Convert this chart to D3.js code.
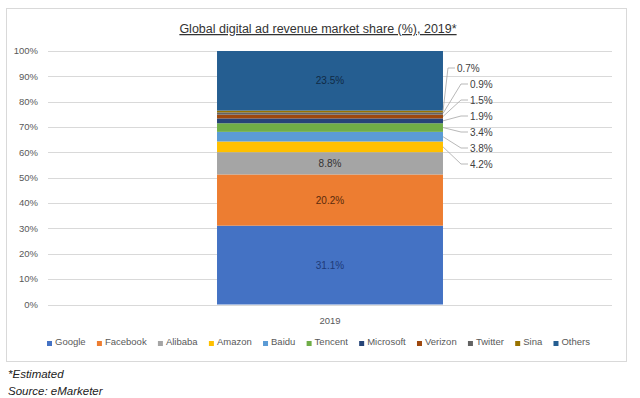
<!DOCTYPE html>
<html>
<head>
<meta charset="utf-8">
<script src="https://cdn.jsdelivr.net/npm/d3@7"></script>
<style>
  body { margin: 0; background: #fff; }
  text { font-family: "Liberation Sans", "DejaVu Sans", sans-serif; }
</style>
</head>
<body>
<svg id="chart" width="640" height="398"></svg>
<script>
// data
const years = ['2019'];
const companies = ['Google', 'Facebook', 'Alibaba', 'Amazon', 'Baidu', 'Tencent',
  'Microsoft', 'Verizon', 'Twitter', 'Sina', 'Others'];
const shares = [31.1, 20.2, 8.8, 4.2, 3.8, 3.4, 1.9, 1.5, 0.9, 0.7, 23.5];
const yTicks = [0, 10, 20, 30, 40, 50, 60, 70, 80, 90, 100];

const colors = ['#4472C4', '#ED7D31', '#A5A5A5', '#FFC000', '#5B9BD5', '#70AD47',
  '#264478', '#9E480E', '#636363', '#997300', '#255E91'];
// text colour of labels drawn inside the bar
const innerText = ['#1f3a78', '#5a2a0c', '#333333', null, null, null, null, null, null, null, '#102a45'];

const svg = d3.select('#chart');

// frame
svg.append('rect')
  .attr('x', 6.5).attr('y', 8.5)
  .attr('width', 620).attr('height', 353)
  .attr('fill', 'none')
  .attr('stroke', '#d9d9d9');

// title
svg.append('text')
  .attr('x', 318).attr('y', 33)
  .attr('text-anchor', 'middle')
  .style('font-size', '12.5px')
  .style('fill', '#333')
  .style('text-decoration', 'underline')
  .text('Global digital ad revenue market share (%), 2019*');

const plot = { left: 48, right: 612, top: 51, bottom: 304.5 };

const y = d3.scaleLinear().domain([0, 100]).range([plot.bottom, plot.top]);
const x = d3.scaleBand().domain(years).range([plot.left, plot.right]).paddingInner(0).paddingOuter(0.748);

// gridlines
svg.append('g')
  .selectAll('line')
  .data(yTicks)
  .enter().append('line')
  .attr('x1', plot.left).attr('x2', plot.right)
  .attr('y1', d => Math.round(y(d)) + 0.5)
  .attr('y2', d => Math.round(y(d)) + 0.5)
  .attr('stroke', '#d9d9d9')
  .attr('stroke-width', 1);

// y tick labels
svg.append('g')
  .selectAll('text')
  .data(yTicks)
  .enter().append('text')
  .attr('x', 38)
  .attr('y', d => y(d))
  .attr('dy', '0.35em')
  .attr('text-anchor', 'end')
  .style('font-size', '9.5px')
  .style('fill', '#595959')
  .text(d => d + '%');

// stacked segments
let acc = 0;
const segs = shares.map((v, i) => {
  const s = { name: companies[i], value: v, y0: acc, y1: acc + v, i };
  acc += v;
  return s;
});

const bx = x('2019');
const bw = x.bandwidth();

svg.append('g')
  .selectAll('rect')
  .data(segs)
  .enter().append('rect')
  .attr('x', bx)
  .attr('width', bw)
  .attr('y', d => y(d.y1))
  .attr('height', d => y(d.y0) - y(d.y1))
  .attr('fill', d => colors[d.i]);

// labels inside the bar (big segments)
svg.append('g')
  .selectAll('text')
  .data(segs.filter(d => innerText[d.i]))
  .enter().append('text')
  .attr('x', bx + bw / 2)
  .attr('y', d => y((d.y0 + d.y1) / 2))
  .attr('dy', '0.35em')
  .attr('text-anchor', 'middle')
  .style('font-size', '10px')
  .style('fill', d => innerText[d.i])
  .text(d => d.value.toFixed(1) + '%');

// labels outside with leader lines (small segments), top to bottom
const outside = segs.filter(d => !innerText[d.i]).reverse();
const labelTop = 68, labelStep = 16;
const labelX = bx + bw + 27;
const outG = svg.append('g');
outside.forEach((d, k) => {
  const ly = labelTop + k * labelStep;
  const sy = y((d.y0 + d.y1) / 2);
  const tx = k === 0 ? labelX - 13 : labelX;
  outG.append('polyline')
    .attr('points', [[bx + bw, sy], [tx - 9, ly], [tx - 2, ly]].join(' '))
    .attr('fill', 'none')
    .attr('stroke', '#a6a6a6')
    .attr('stroke-width', 0.8);
  outG.append('text')
    .attr('x', tx)
    .attr('y', ly)
    .attr('dy', '0.35em')
    .style('font-size', '10px')
    .style('fill', '#404040')
    .text(d.value.toFixed(1) + '%');
});

// x category label
svg.append('text')
  .attr('x', bx + bw / 2)
  .attr('y', 321)
  .attr('dy', '0.35em')
  .attr('text-anchor', 'middle')
  .style('font-size', '9.5px')
  .style('fill', '#595959')
  .text('2019');

// legend
const leg = svg.append('g');
const items = companies.map((c, i) => {
  const g = leg.append('g');
  g.append('rect').attr('width', 5).attr('height', 5).attr('y', -4).attr('fill', colors[i]);
  const t = g.append('text').attr('x', 8).attr('y', 0)
    .style('font-size', '9.5px').style('fill', '#595959').text(c);
  return { g, w: 8 + t.node().getComputedTextLength() };
});
const legLeft = 47, legRight = 590;
const totalW = d3.sum(items, d => d.w);
const gap = (legRight - legLeft - totalW) / (items.length - 1);
let lx = legLeft;
items.forEach(it => {
  it.g.attr('transform', `translate(${lx},345)`);
  lx += it.w + gap;
});

// footnotes
svg.append('text')
  .attr('x', 8).attr('y', 378)
  .style('font-size', '11.5px').style('font-style', 'italic').style('fill', '#222')
  .text('*Estimated');
svg.append('text')
  .attr('x', 8).attr('y', 395)
  .style('font-size', '11.5px').style('font-style', 'italic').style('fill', '#222')
  .text('Source: eMarketer');
</script>
</body>
</html>
